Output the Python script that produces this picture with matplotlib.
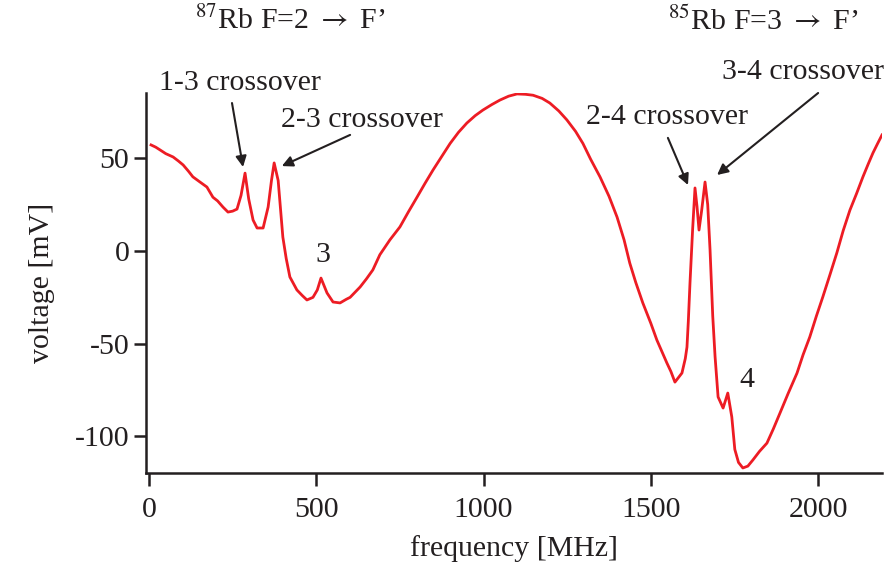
import matplotlib as mpl
mpl.use('Agg')
import matplotlib.pyplot as plt

mpl.rcParams['font.family'] = ['Liberation Serif', 'DejaVu Serif']
mpl.rcParams['mathtext.fontset'] = 'stix'
mpl.rcParams['axes.unicode_minus'] = False

# saturated absorption trace
freq = [6, 20, 33, 50, 72, 88, 102, 118, 131, 150, 173, 191, 205, 221, 236,
        250, 263, 275, 287, 298, 311, 323, 341, 356, 366, 374, 386, 400, 410,
        421, 442, 458, 472, 490, 503, 514, 532, 550, 571, 590, 601, 631, 650,
        669, 690, 720, 750, 775, 801, 825, 849, 875, 900, 925, 950, 975, 998,
        1025, 1049, 1075, 1100, 1125, 1148, 1175, 1198, 1225, 1249, 1275, 1297,
        1320, 1348, 1375, 1399, 1420, 1437, 1455, 1476, 1500, 1518, 1548, 1560,
        1572, 1593, 1603, 1608, 1612, 1617, 1625, 1632, 1638, 1644, 1652, 1662,
        1670, 1677, 1685, 1692, 1701, 1716, 1730, 1742, 1751, 1762, 1775, 1790,
        1805, 1825, 1847, 1866, 1886, 1910, 1937, 1955, 1975, 1995, 2014, 2035,
        2056, 2075, 2095, 2115, 2134, 2150, 2164, 2178, 2191]
volt = [57.2, 56, 54.5, 52.5, 50.7, 48.5, 46.4, 43, 40, 37.5, 34.5, 29, 27,
        23.7, 21, 21.5, 22.6, 30, 42, 28, 16.7, 12.4, 12.4, 23.7, 38, 47.5, 38,
        7.5, -4, -14, -21, -24, -26.4, -25, -21, -14.6, -22.6, -27.5, -28, -26,
        -25, -19.4, -15, -10.2, -2, 6, 13, 21, 29, 36.5, 43.7, 51, 58, 64, 69,
        73, 76, 79, 81.4, 83.5, 84.7, 84.5, 84, 82.3, 79.8, 75.5, 70.7, 64.5,
        58, 49.5, 40, 29.5, 18.3, 6, -6.5, -17, -28, -39, -48, -60.4, -65,
        -70.7, -65.8, -58, -51.8, -38, -17.3, 12, 34, 24, 11.3, 22, 37.2, 25,
        0.5, -35, -57, -78.7, -84.7, -76.6, -89.5, -107, -114, -117, -116,
        -112.7, -108, -103.6, -96, -87.4, -77, -65.8, -56, -46.4, -35, -24.8,
        -13, -1, 11, 22, 31, 40, 47, 52.9, 58, 62.6]

xticks = [0, 500, 1000, 1500, 2000]
yticks = [-100, -50, 0, 50]

# label text, label position, arrow tail, arrow tip
crossovers = [
    ('1-3 crossover', (272, 90.6), (248, 79.8), (281, 45.3)),
    ('2-3 crossover', (637, 70.7), (601, 62.6), (397, 45.8)),
    ('2-4 crossover', (1548, 72.3), (1551, 61), (1611, 35.6)),
    ('3-4 crossover', (1955, 96.5), (2000, 85.2), (1698, 41)),
]
lines = [('3', (520, -2)), ('4', (1787, -69.6))]
titles = [(r'$^{87}$Rb F=2 $\rightarrow$ F’', 421),
          (r'$^{85}$Rb F=3 $\rightarrow$ F’', 1835)]

ink = '#231f20'
fs = 21.5

fig = plt.figure(figsize=(8.92, 5.62), dpi=100)
ax = fig.add_axes([0.1637, 0.1584, 0.8251, 0.6761])

ax.plot(freq, volt, color='#ed1c24', lw=2)

ax.set_xlim(-9, 2191)
ax.set_ylim(-119.7, 85.2)
ax.set_xticks(xticks)
ax.set_yticks(yticks)
ax.tick_params(direction='out', length=9, width=1.8, color=ink,
               labelsize=fs, labelcolor=ink)
ax.tick_params(axis='x', pad=8)
ax.tick_params(axis='y', pad=3)
for s in ['top', 'right']:
    ax.spines[s].set_visible(False)
for s in ['left', 'bottom']:
    ax.spines[s].set_linewidth(1.8)
    ax.spines[s].set_color(ink)

ax.set_xlabel('frequency [MHz]', fontsize=fs, color=ink, labelpad=9)
ax.set_ylabel('voltage [mV]', fontsize=fs, color=ink, labelpad=14)

for txt, pos, tail, tip in crossovers:
    ax.text(pos[0], pos[1], txt, fontsize=fs, color=ink,
            ha='center', va='center', clip_on=False)
    ax.annotate('', xy=tip, xytext=tail, annotation_clip=False,
                arrowprops=dict(arrowstyle='-|>', color=ink, lw=1.5,
                                mutation_scale=16, shrinkA=0, shrinkB=0))

for txt, pos in lines:
    ax.text(pos[0], pos[1], txt, fontsize=fs, color=ink, ha='center', va='center')

for txt, fx in titles:
    ax.text(fx, 124, txt, fontsize=fs, color=ink, ha='center', va='center',
            clip_on=False)

plt.savefig('out.png', dpi=100)
